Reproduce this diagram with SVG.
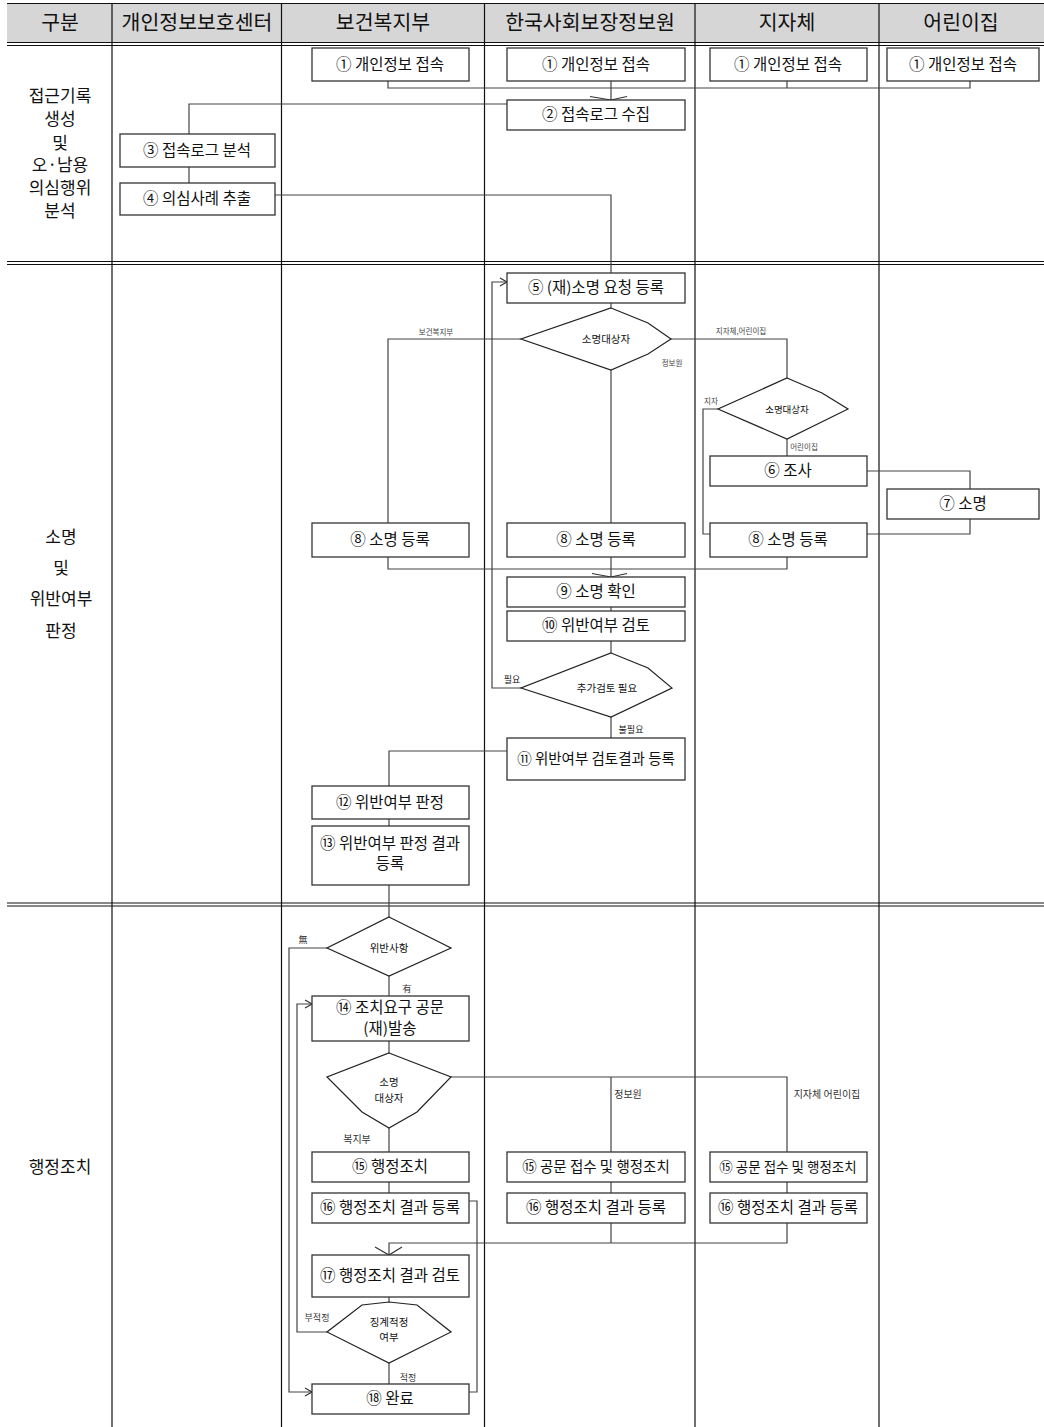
<svg xmlns="http://www.w3.org/2000/svg" width="1044" height="1427" viewBox="0 0 1044 1427">
<style>
text{font-family:"Noto Sans CJK KR","Noto Sans",sans-serif;fill:#111;text-anchor:middle}
.hd{font-size:20.5px}
.rl{font-size:17px}
.bt{font-size:15.5px}
.sm{font-size:7.5px;fill:#444}
.ds{font-size:10.5px}
.lb{font-size:10px;fill:#333}
.grid{stroke:#111;stroke-width:1.2;fill:none}
.box{fill:#fff;stroke:#333;stroke-width:1.3}
.dia{fill:#fff;stroke:#222;stroke-width:1.2}
.cn{fill:none;stroke:#444;stroke-width:1.2}
.ar{fill:none;stroke:#333;stroke-width:1.2}
</style>
<rect x="0" y="0" width="1044" height="1427" fill="#fff"/>
<g id="table">
<rect x="7" y="4" width="1037" height="38" fill="#d6d6d6"/>
<line class="grid" x1="7" y1="3.5" x2="1044" y2="3.5" stroke-width="2.2"/>
<line class="grid" x1="7" y1="42.5" x2="1044" y2="42.5" stroke-width="1.6"/>
<line class="grid" x1="7" y1="45.5" x2="1044" y2="45.5" stroke-width="1.6"/>
<line class="grid" x1="7" y1="261.5" x2="1044" y2="261.5" stroke-width="1.6"/>
<line class="grid" x1="7" y1="264.5" x2="1044" y2="264.5" stroke-width="1.6"/>
<line class="grid" x1="7" y1="903" x2="1044" y2="903" stroke-width="1.6"/>
<line class="grid" x1="7" y1="906" x2="1044" y2="906" stroke-width="1.6"/>
<line class="grid" x1="112" y1="3" x2="112" y2="1427"/>
<line class="grid" x1="281.5" y1="3" x2="281.5" y2="1427"/>
<line class="grid" x1="484.5" y1="3" x2="484.5" y2="1427" stroke="#555"/>
<line class="grid" x1="695" y1="3" x2="695" y2="1427"/>
<line class="grid" x1="879" y1="3" x2="879" y2="1427" stroke="#555"/>
<text class="hd" x="60" y="30">구분</text>
<text class="hd" x="197" y="30">개인정보보호센터</text>
<text class="hd" x="383" y="30">보건복지부</text>
<text class="hd" x="590" y="30">한국사회보장정보원</text>
<text class="hd" x="787" y="30">지자체</text>
<text class="hd" x="961" y="30">어린이집</text>
<text class="rl" x="60" y="102">접근기록</text>
<text class="rl" x="60" y="124.5">생성</text>
<text class="rl" x="60" y="148.5">및</text>
<text class="rl" x="60" y="171">오·남용</text>
<text class="rl" x="60" y="194">의심행위</text>
<text class="rl" x="60" y="217">분석</text>
<text class="rl" x="61" y="543">소명</text>
<text class="rl" x="61" y="574">및</text>
<text class="rl" x="61" y="605">위반여부</text>
<text class="rl" x="61" y="637">판정</text>
<text class="rl" x="60" y="1173">행정조치</text>
</g>
<g id="connectors">
<polyline class="cn" points="388,81 388,88 970,88 970,81"/>
<line class="cn" x1="787" y1="81" x2="787" y2="88"/>
<line class="cn" x1="611" y1="81" x2="611" y2="100"/>
<polyline class="ar" points="590,96.5 611,100 627,96.5"/>
<polyline class="cn" points="507,104 189,104 189,134"/>
<line class="cn" x1="189" y1="167" x2="189" y2="183"/>
<polyline class="cn" points="275,195 611,195 611,273"/>
<line class="cn" x1="611" y1="303" x2="611" y2="308"/>
<polyline class="cn" points="521,339 388,339 388,523"/>
<line class="cn" x1="611" y1="370" x2="611" y2="523"/>
<polyline class="cn" points="671,339 787,339 787,378"/>
<polyline class="cn" points="718,409 703,409 703,534 710,534"/>
<line class="cn" x1="787" y1="439" x2="787" y2="456"/>
<polyline class="cn" points="867,471 970,471 970,489"/>
<polyline class="cn" points="970,519 970,534 867,534"/>
<polyline class="cn" points="388,557 388,569 787,569 787,557"/>
<line class="cn" x1="611" y1="557" x2="611" y2="577"/>
<polyline class="ar" points="592,573.5 611,577 627,573.5"/>
<line class="cn" x1="611" y1="607" x2="611" y2="611"/>
<line class="cn" x1="611" y1="641" x2="611" y2="653"/>
<polyline class="cn" points="521,688 492,688 492,282 507,282"/>
<polyline class="ar" points="500,278 507,282 500,286"/>
<line class="cn" x1="611" y1="717" x2="611" y2="738"/>
<polyline class="cn" points="507,751 389,751 389,786"/>
<line class="cn" x1="389" y1="819" x2="389" y2="826"/>
<line class="cn" x1="389" y1="885" x2="389" y2="917"/>
<polyline class="cn" points="327,948 289,948 289,1392 312,1392"/>
<polyline class="ar" points="305,1388 312,1392 305,1396"/>
<line class="cn" x1="389" y1="976" x2="389" y2="996"/>
<polyline class="cn" points="327,1332 297,1332 297,1004 312,1004"/>
<polyline class="ar" points="305,1000 312,1004 305,1008"/>
<line class="cn" x1="389" y1="1041" x2="389" y2="1053"/>
<polyline class="cn" points="451,1077 787,1077 787,1152"/>
<line class="cn" x1="611" y1="1077" x2="611" y2="1152"/>
<line class="cn" x1="389" y1="1128" x2="389" y2="1152"/>
<line class="cn" x1="389" y1="1182" x2="389" y2="1193"/>
<line class="cn" x1="611" y1="1182" x2="611" y2="1193"/>
<line class="cn" x1="787" y1="1182" x2="787" y2="1193"/>
<polyline class="cn" points="611,1223 611,1243"/>
<polyline class="cn" points="787,1223 787,1243 389,1243 389,1255"/>
<polyline class="ar" points="375,1247 389,1255 402,1247"/>
<polyline class="cn" points="469,1201 477,1201 477,1392 469,1392"/>
<line class="cn" x1="389" y1="1297" x2="389" y2="1302"/>
<line class="cn" x1="389" y1="1363" x2="389" y2="1384"/>
<text class="sm" x="436" y="335">보건복지부</text>
<text class="sm" x="672" y="366">정보원</text>
<text class="sm" x="741" y="334">지자체,어린이집</text>
<text class="sm" x="711" y="404">지자</text>
<text class="sm" x="804" y="450">어린이집</text>
<text class="ds" x="512" y="683" style="font-size:9px">필요</text>
<text class="ds" x="631" y="733" style="font-size:9px">불필요</text>
<text class="lb" x="303" y="943" style="font-size:9px">無</text>
<text class="lb" x="407" y="992" style="font-size:9px">有</text>
<text class="lb" x="357" y="1143">복지부</text>
<text class="lb" x="628" y="1098">정보원</text>
<text class="lb" x="827" y="1098">지자체 어린이집</text>
<text class="lb" x="317" y="1321" style="font-size:9px">부적정</text>
<text class="lb" x="408" y="1381" style="font-size:9px">적정</text>
</g>
<g id="n1a"><rect class="box" x="312" y="48" width="157" height="33"/><text class="bt" x="390" y="70">① 개인정보 접속</text></g>
<g id="n1b"><rect class="box" x="507" y="48" width="178" height="33"/><text class="bt" x="596" y="70">① 개인정보 접속</text></g>
<g id="n1c"><rect class="box" x="710" y="48" width="157" height="33"/><text class="bt" x="788" y="70">① 개인정보 접속</text></g>
<g id="n1d"><rect class="box" x="887" y="48" width="152" height="33"/><text class="bt" x="963" y="70">① 개인정보 접속</text></g>
<g id="n2"><rect class="box" x="507" y="100" width="178" height="30"/><text class="bt" x="596" y="120">② 접속로그 수집</text></g>
<g id="n3"><rect class="box" x="120" y="134" width="155" height="33"/><text class="bt" x="197" y="156">③ 접속로그 분석</text></g>
<g id="n4"><rect class="box" x="120" y="183" width="155" height="32"/><text class="bt" x="197" y="204">④ 의심사례 추출</text></g>
<g id="n5"><rect class="box" x="507" y="273" width="178" height="30"/><text class="bt" x="596" y="293">⑤ (재)소명 요청 등록</text></g>
<g id="d1"><polygon class="dia" points="611,308 648,323 671,339 648,354 611,370 521,339"/><text class="ds" x="606" y="343">소명대상자</text></g>
<g id="d2"><polygon class="dia" points="787,378 822,393 848,409 787,439 718,409"/><text class="ds" x="787" y="413" style="font-size:9.5px">소명대상자</text></g>
<g id="n6"><rect class="box" x="710" y="456" width="157" height="30"/><text class="bt" x="788" y="476">⑥ 조사</text></g>
<g id="n7"><rect class="box" x="887" y="489" width="152" height="30"/><text class="bt" x="963" y="509">⑦ 소명</text></g>
<g id="n8a"><rect class="box" x="312" y="523" width="157" height="34"/><text class="bt" x="390" y="545">⑧ 소명 등록</text></g>
<g id="n8b"><rect class="box" x="507" y="523" width="178" height="34"/><text class="bt" x="596" y="545">⑧ 소명 등록</text></g>
<g id="n8c"><rect class="box" x="710" y="523" width="157" height="34"/><text class="bt" x="788" y="545">⑧ 소명 등록</text></g>
<g id="n9"><rect class="box" x="507" y="577" width="178" height="30"/><text class="bt" x="596" y="597">⑨ 소명 확인</text></g>
<g id="n10"><rect class="box" x="507" y="611" width="178" height="30"/><text class="bt" x="596" y="631">⑩ 위반여부 검토</text></g>
<g id="d3"><polygon class="dia" points="611,653 648,668 672,688 611,717 521,688"/><text class="ds" x="607" y="692">추가검토 필요</text></g>
<g id="n11"><rect class="box" x="507" y="738" width="178" height="42"/><text class="bt" x="596" y="764" style="font-size:14.5px">⑪ 위반여부 검토결과 등록</text></g>
<g id="n12"><rect class="box" x="312" y="786" width="157" height="33"/><text class="bt" x="390" y="808">⑫ 위반여부 판정</text></g>
<g id="n13"><rect class="box" x="312" y="826" width="157" height="59"/><text class="bt" x="390" y="849">⑬ 위반여부 판정 결과</text><text class="bt" x="390" y="869">등록</text></g>
<g id="d4"><polygon class="dia" points="389,917 451,948 389,976 327,948"/><text class="ds" x="389" y="952">위반사항</text></g>
<g id="n14"><rect class="box" x="312" y="996" width="157" height="45"/><text class="bt" x="390" y="1013">⑭ 조치요구 공문</text><text class="bt" x="390" y="1034">(재)발송</text></g>
<g id="d5"><polygon class="dia" points="389,1053 451,1077 417,1112 389,1128 362,1112 327,1077"/><text class="ds" x="389" y="1086">소명</text><text class="ds" x="389" y="1102">대상자</text></g>
<g id="n15a"><rect class="box" x="312" y="1152" width="157" height="30"/><text class="bt" x="390" y="1172">⑮ 행정조치</text></g>
<g id="n15b"><rect class="box" x="507" y="1152" width="178" height="30"/><text class="bt" x="596" y="1172" style="font-size:14.5px">⑮ 공문 접수 및 행정조치</text></g>
<g id="n15c"><rect class="box" x="710" y="1152" width="157" height="30"/><text class="bt" x="788" y="1172" style="font-size:13.5px">⑮ 공문 접수 및 행정조치</text></g>
<g id="n16a"><rect class="box" x="312" y="1193" width="157" height="30"/><text class="bt" x="390" y="1213">⑯ 행정조치 결과 등록</text></g>
<g id="n16b"><rect class="box" x="507" y="1193" width="178" height="30"/><text class="bt" x="596" y="1213">⑯ 행정조치 결과 등록</text></g>
<g id="n16c"><rect class="box" x="710" y="1193" width="157" height="30"/><text class="bt" x="788" y="1213">⑯ 행정조치 결과 등록</text></g>
<g id="n17"><rect class="box" x="312" y="1255" width="157" height="42"/><text class="bt" x="390" y="1281">⑰ 행정조치 결과 검토</text></g>
<g id="d6"><polygon class="dia" points="389,1302 417,1305 451,1332 389,1363 327,1332 362,1305"/><text class="ds" x="389" y="1326">징계적정</text><text class="ds" x="389" y="1341">여부</text></g>
<g id="n18"><rect class="box" x="312" y="1384" width="157" height="30"/><text class="bt" x="390" y="1404">⑱ 완료</text></g>
</svg>
